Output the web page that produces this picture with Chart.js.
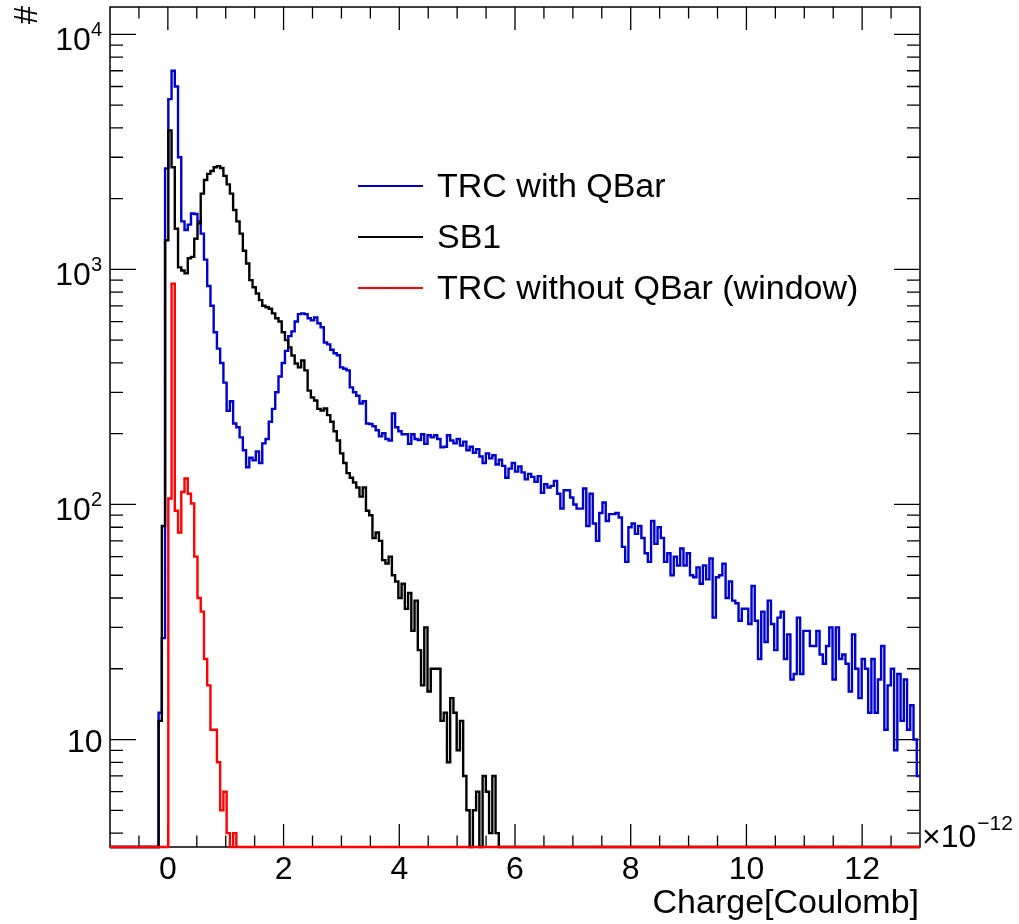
<!DOCTYPE html>
<html>
<head>
<meta charset="utf-8">
<title>Charge spectrum</title>
<script src="https://cdn.jsdelivr.net/npm/chart.js@4.4.1/dist/chart.umd.min.js"></script>
<style>
html, body { margin: 0; padding: 0; background: #fff; }
#wrap { width: 1019px; height: 924px; }
</style>
</head>
<body>
<div id="wrap"><canvas id="chartQ" width="1019" height="924"></canvas></div>
<script>
// binning, x in units of 1e-12 Coulomb
const xMin = -1, xMax = 13, nBins = 250;
const yMin = 3.49, yMax = 13070;

// tick labels
const xTickLabels = [0, 2, 4, 6, 8, 10, 12];
const yTickValues = [10, 100, 1000, 10000];
const yTickExponents = ['', '2', '3', '4'];

const seriesNames = ['TRC with QBar', 'SB1', 'TRC without QBar (window)'];
const seriesColors = ['#0000cc', '#000000', '#ff0000'];

// counts per bin, first entry is bin index *First (all other bins empty)
const blueFirst = 15;
const blueCounts = [
    13, 27, 2690, 5300, 7000, 6000, 3000, 1600, 1470, 1550,
    1730, 1720, 1600, 1420, 1100, 850, 700, 540, 460, 400,
    330, 250, 275, 221, 213, 193, 170, 144, 158, 154,
    168, 150, 182, 190, 225, 255, 300, 350, 400, 450,
    520, 545, 600, 645, 650, 645, 620, 607, 625, 590,
    567, 489, 480, 455, 440, 431, 383, 378, 372, 315,
    300, 290, 269, 275, 221, 220, 215, 207, 195, 201,
    190, 187, 244, 213, 205, 199, 199, 181, 199, 190,
    188, 199, 181, 197, 193, 197, 190, 175, 176, 197, 187,
    182, 190, 178, 185, 170, 176, 166, 172, 160, 150,
    165, 157, 162, 148, 155, 146, 130, 142, 150, 138,
    145, 137, 128, 135, 131, 125, 132, 112, 122, 118,
    120, 126, 111, 96, 115, 115, 107, 100, 96, 96,
    117, 81, 111, 83, 70, 92, 102, 85, 91, 91,
    92, 88, 66, 57, 80, 83, 75, 81, 72, 62,
    57, 85, 68, 80, 72, 57, 62, 50, 60, 55,
    65, 55, 62, 50, 49, 54, 46, 55, 48, 59,
    33, 49, 50, 56, 40, 47,
    39, 38, 32, 36, 36, 31, 45, 32, 22, 35,
    26, 39, 31, 24, 33, 35, 22, 28, 18, 19,
    33, 19, 29, 29, 25, 25, 29, 23, 21, 25,
    30, 18, 30,
    22, 23, 21, 16, 28, 20, 15, 22, 20, 13,
    22, 13, 18, 25, 11, 17, 20, 9, 19, 12,
    18, 11, 14, 10, 7
];
const blackFirst = 15;
const blackCounts = [
    12, 81, 1330, 3900, 2720, 1490, 1020, 990, 962, 1115,
    1130, 1350, 1570, 2100, 2400, 2550, 2620, 2720, 2750, 2700,
    2500, 2300, 2100, 1790, 1600, 1420, 1200, 1060, 900, 840,
    790, 740, 700, 690, 680, 650, 620, 600, 540, 500,
    466, 430, 398, 383, 410, 372, 305, 285, 277, 255,
    251, 256, 240, 225, 205, 187, 165, 150, 136, 130,
    124, 118, 108, 118, 94, 90, 72, 76, 70, 58,
    56, 60, 50, 47, 40, 46, 36, 42, 29, 39,
    24, 17, 30, 16, 20, 20, 20, 12, 13, 8,
    15, 13, 9, 12, 7, 5, 0, 5, 6, 0, 7, 6, 4, 7, 4
];
const redFirst = 18;
const redCounts = [
    106, 870, 94, 76, 113, 129, 111, 101, 60, 40,
    35, 22, 17, 11, 11, 8, 5, 6, 4, 0, 4
];

const fontFam = '"Liberation Sans", Arial, Helvetica, sans-serif';

//ヒストグラムの点 (bin left edges, stepped)
function histPoints(first, counts){
    const w = (xMax - xMin) / nBins;
    const pts = [];
    for (let i = 0; i < nBins; i++) {
        const c = (i >= first && i < first + counts.length) ? counts[i - first] : 0;
        pts.push({x: xMin + i * w, y: c > 0 ? c : yMin}); // empty bins lie on the frame like ROOT
    }
    pts.push({x: xMax, y: pts[pts.length - 1].y});
    return pts;
}

//枠・目盛り・ラベル
const rootFrame = {
    id: 'rootFrame',
    beforeDatasetsDraw(chart) {
        const {ctx, chartArea: a, scales: {x, y}} = chart;
        ctx.save();
        ctx.strokeStyle = '#000';
        ctx.lineWidth = 1.5;
        ctx.strokeRect(a.left, a.top, a.right - a.left, a.bottom - a.top);

        ctx.beginPath();
        for (let v = xMin + 0.5; v < xMax; v += 0.5) {
            const px = x.getPixelForValue(v);
            const len = Math.abs(v % 2) < 1e-9 ? 23 : 11.5;
            ctx.moveTo(px, a.bottom); ctx.lineTo(px, a.bottom - len);
            ctx.moveTo(px, a.top); ctx.lineTo(px, a.top + len);
        }
        for (let d = 1; d <= 10000; d *= 10) {
            for (let m = 1; m <= 9; m++) {
                const v = m * d;
                if (v < yMin || v > yMax) continue;
                const py = y.getPixelForValue(v);
                const len = m === 1 ? 26 : 13;
                ctx.moveTo(a.left, py); ctx.lineTo(a.left + len, py);
                ctx.moveTo(a.right, py); ctx.lineTo(a.right - len, py);
            }
        }
        ctx.lineWidth = 1.3;
        ctx.stroke();

        ctx.fillStyle = '#000';
        // x labels
        ctx.font = '32px ' + fontFam;
        ctx.textAlign = 'center';
        ctx.textBaseline = 'alphabetic';
        xTickLabels.forEach(v => ctx.fillText(String(v), x.getPixelForValue(v), 879));

        // y labels 10^n
        ctx.textAlign = 'right';
        yTickValues.forEach((v, k) => {
            const py = y.getPixelForValue(v);
            const ex = yTickExponents[k];
            if (ex === '') {
                ctx.font = '32px ' + fontFam;
                ctx.fillText('10', 102.5, py + 12);
            } else {
                ctx.font = '20px ' + fontFam;
                const ew = ctx.measureText(ex).width;
                ctx.fillText(ex, 102, py + 1.5);
                ctx.font = '32px ' + fontFam;
                ctx.fillText('10', 102 - ew, py + 16);
            }
        });

        // x title + exponent
        ctx.font = '34px ' + fontFam;
        ctx.textAlign = 'right';
        ctx.fillText('Charge[Coulomb]', 919, 913);
        ctx.textAlign = 'left';
        ctx.font = '32px ' + fontFam;
        ctx.fillText('\u00d710', 922, 847);
        const w10 = ctx.measureText('\u00d710').width;
        ctx.font = '21px ' + fontFam;
        ctx.fillText('\u221212', 922 + w10 + 1, 830);

        // y title
        ctx.save();
        ctx.translate(37, 6);
        ctx.rotate(-Math.PI / 2);
        ctx.font = '33px ' + fontFam;
        ctx.textAlign = 'right';
        ctx.fillText('#', 0, 0);
        ctx.restore();

        // legend
        const rows = [186, 237, 288];
        rows.forEach((ly, k) => {
            ctx.strokeStyle = seriesColors[k];
            ctx.lineWidth = 2.2;
            ctx.beginPath();
            ctx.moveTo(358, ly); ctx.lineTo(423, ly);
            ctx.stroke();
            ctx.fillStyle = '#000';
            ctx.fillRect(389, ly - 0.5, 1, 1);
            ctx.font = '34px ' + fontFam;
            ctx.textAlign = 'left';
            ctx.fillText(seriesNames[k], 437, ly + 11);
        });
        ctx.restore();
    }
};

//チャート描画
window.addEventListener('DOMContentLoaded', () => {
    const ctx = document.getElementById('chartQ').getContext('2d');
    const sets = [
        [blueFirst, blueCounts, 3],
        [blackFirst, blackCounts, 2],
        [redFirst, redCounts, 1]
    ];
    new Chart(ctx, {
        type: 'line',
        data: {
            datasets: sets.map((s, k) => ({
                label: seriesNames[k],
                data: histPoints(s[0], s[1]),
                borderColor: seriesColors[k],
                borderWidth: 2.4,
                borderJoinStyle: 'miter',
                stepped: true,
                pointRadius: 0,
                fill: false,
                clip: false,
                order: s[2]
            }))
        },
        options: {
            responsive: false,
            animation: false,
            layout: { padding: { left: 110, right: 99, top: 7, bottom: 77 } },
            scales: {
                x: { type: 'linear', min: xMin, max: xMax, display: false },
                y: { type: 'logarithmic', min: yMin, max: yMax, bounds: 'data', display: false }
            },
            plugins: { legend: { display: false }, tooltip: { enabled: false } },
            elements: { line: { tension: 0 } }
        },
        plugins: [rootFrame]
    });
});
</script>
</body>
</html>
